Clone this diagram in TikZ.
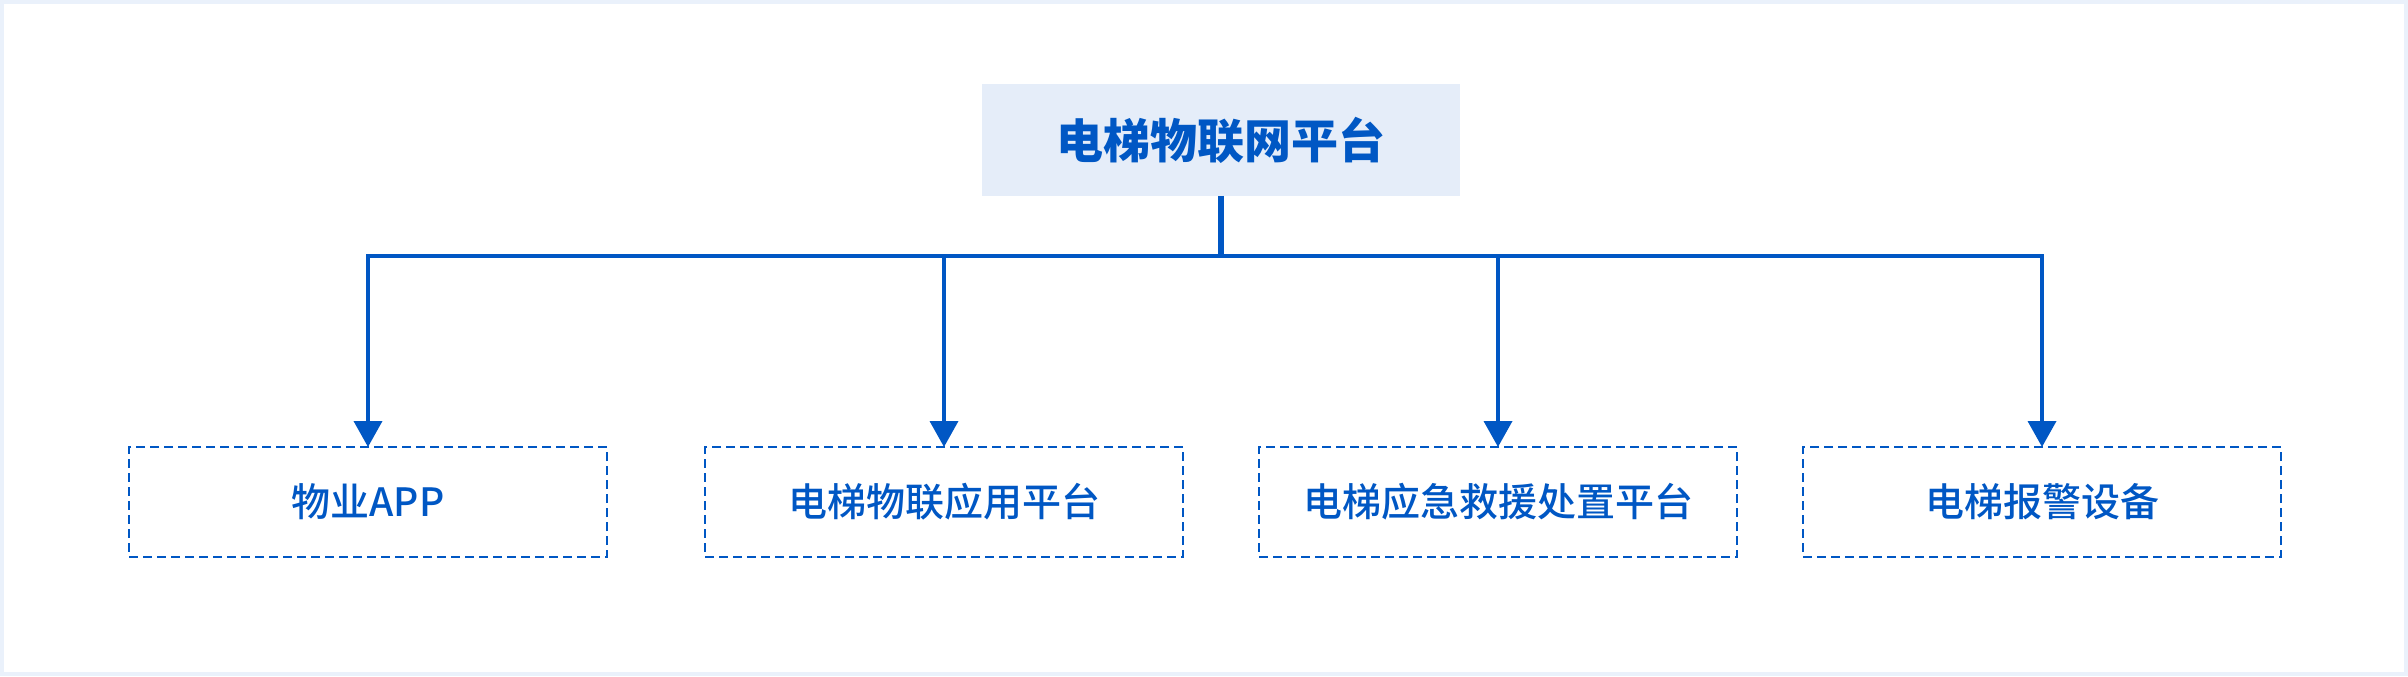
\documentclass[tikz,border=0pt]{standalone}
\usepackage{fontspec}
\setmainfont{Noto Sans CJK SC}
\newfontfamily\leaffont{Noto Sans CJK SC Medium}
\usetikzlibrary{arrows.meta}
\definecolor{lineblue}{RGB}{0,87,196}
\definecolor{topfill}{RGB}{229,237,249}
\definecolor{framefill}{RGB}{234,241,251}

\begin{document}
\begin{tikzpicture}[x=0.5pt,y=0.5pt,
    topbox/.style={fill=topfill,minimum width=239pt,minimum height=56pt,inner sep=0pt,outer sep=0pt,
        text=lineblue,font=\fontsize{23.5pt}{26pt}\selectfont\bfseries},
    leafbox/.style={draw=lineblue,dash pattern=on 4.5pt off 2.5pt,line width=1pt,minimum width=239pt,
        minimum height=55pt,inner sep=0pt,outer sep=0pt,text=lineblue,font=\leaffont\fontsize{19.5pt}{22pt}\selectfont},
    stemline/.style={lineblue,line width=2.8pt},
    link/.style={lineblue,line width=1.9pt,-{Triangle[width=14pt,length=13pt]}}]
                \fill[framefill] (0,0) rectangle (2408,676);
                \fill[white] (4,4) rectangle (2404,672);
                \node[topbox] (iot) at (1221,536) {电梯物联网平台};
                \coordinate (bus) at (1221,420);
                \node[leafbox] (app) at (368,174) {物业APP};
                \node[leafbox] (apply) at (944,174) {电梯物联应用平台};
                \node[leafbox] (rescue) at (1498,174) {电梯应急救援处置平台};
                \node[leafbox] (alarm) at (2042,174) {电梯报警设备};
                \draw[stemline] (iot.south) -- (bus);
                \draw[link] (bus) -| (app.north);
                \draw[link] (bus) -| (apply.north);
                \draw[link] (bus) -| (rescue.north);
                \draw[link] (bus) -| (alarm.north);
            \end{tikzpicture}
\end{document}
